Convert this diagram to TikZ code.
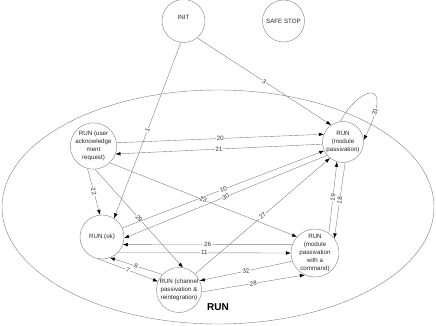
\documentclass[tikz,border=0pt]{standalone}
\usepackage{fontspec}
\setmainfont{Liberation Sans}
\usetikzlibrary{arrows.meta}
\begin{document}
\begin{tikzpicture}[x=1pt,y=-1pt,
  state/.style={circle, draw=black!50, line width=0.4pt, inner sep=0pt, align=center,
    font=\fontsize{6.2}{7.8}\selectfont, text=black!85},
  arr/.style={draw=black!50, line width=0.4pt, -{Latex[length=5pt,width=3.6pt,color=black]}},
  lbl/.style={fill=white, inner sep=0.6pt, font=\fontsize{6.2}{7}\selectfont, text=black!80, sloped},
]
\useasboundingbox (0,0) rectangle (436,326);
\draw[black!50, line width=0.4pt] (218,207) ellipse [x radius=216, y radius=117];
\node[font=\fontsize{10}{12}\selectfont\bfseries] (runlbl) at (218,307) {RUN};

\node[state, minimum size=43pt] (init) at (183.5,21) {\raisebox{8pt}{INIT}};
\node[state, minimum size=42pt] (safe) at (283.5,21) {SAFE STOP};
\node[state, minimum size=42pt] (ua) at (93.5,146) {RUN (user\\acknowledge\\ment\\request)};
\node[state, minimum size=41pt] (mp) at (343,142) {RUN\\(module\\passivation)};
\node[state, minimum size=44pt] (ok) at (102,237) {RUN (ok)};
\node[state, minimum size=46pt] (cmd) at (315,253) {RUN\\(module\\passivation\\with a\\command)};
\node[state, minimum size=45pt] (ch) at (179,290) {RUN (channel\\passivation \&\\reintegration)};

\draw[arr] (init.263.5) -- node[lbl]{1} (ok.57.7);
\draw[arr] (init.-51.5) -- node[lbl]{3} (mp.125);
\draw[arr] (ua.8) -- node[lbl]{20} (mp.158);
\draw[arr] (mp.186) -- node[lbl]{21} (ua.340);
\draw[arr] (ua.255) -- node[lbl]{22} (ok.95);
\draw[arr] (ua.274) -- node[lbl]{29} (ch.80);
\draw[arr] (ua.314) -- node[lbl]{23} (cmd.138);
\draw[arr] (ok.24) -- node[lbl]{10} (mp.205);
\draw[arr] (mp.220) -- node[lbl]{30} (ok.357);
\draw[arr] (cmd.159) -- node[lbl]{26} (ok.340);
\draw[arr] (ok.315) -- node[lbl]{11} (cmd.180);
\draw[arr] (ch.137) -- node[lbl]{8} (ok.291);
\draw[arr] (ok.260) -- node[lbl]{7} (ch.158);
\draw[arr] (cmd.200) -- node[lbl]{32} (ch.24);
\draw[arr] (ch.355) -- node[lbl]{28} (cmd.245);
\draw[arr] (ch.45) -- node[lbl]{27} (mp.231);
\draw[arr] (cmd.55) -- node[lbl]{19} (mp.253);
\draw[arr] (mp.276) -- node[lbl]{18} (cmd.37);
\draw[arr] (mp.98) .. controls (358,88) and (396,74) .. node[lbl,pos=0.82]{31} (mp.5);
\end{tikzpicture}
\end{document}
